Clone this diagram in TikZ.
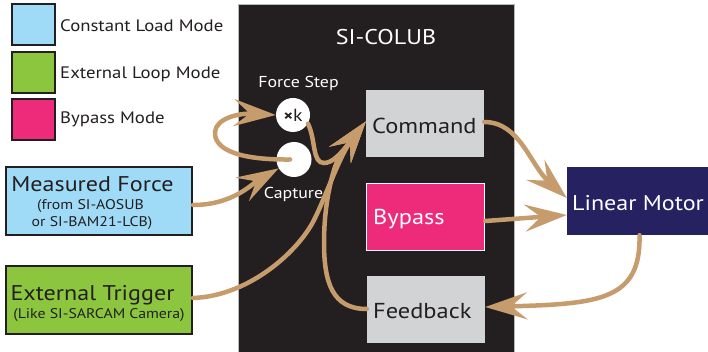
\documentclass[tikz,border=0pt]{standalone}
\usepackage{fontspec}
\setmainfont{PT Sans}[FakeStretch=1.13]
\usetikzlibrary{arrows.meta}
\definecolor{cblue}{HTML}{9FDBF7}
\definecolor{cgreen}{HTML}{8CC63F}
\definecolor{cpink}{HTML}{EE2A7B}
\definecolor{cnavy}{HTML}{262262}
\definecolor{cgray}{HTML}{D1D3D4}
\definecolor{cblack}{HTML}{231F20}
\definecolor{ctan}{HTML}{C69C6D}
\begin{document}
\begin{tikzpicture}[x=1pt,y=-1pt,
  legbox/.style={draw=cblack, line width=2pt, minimum width=43pt, minimum height=41pt, inner sep=0},
  legtext/.style={anchor=base west, inner sep=0, text=cblack, font=\fontsize{16.6}{20}\selectfont},
  srcbox/.style={draw=cblack, line width=2pt, minimum width=186pt, minimum height=68pt, inner sep=0},
  inbox/.style={minimum width=118pt, minimum height=67pt, inner sep=0},
  bigtext/.style={anchor=base west, inner sep=0, font=\fontsize{21.6}{24}\selectfont},
  bigc/.style={anchor=base, inner sep=0, font=\fontsize{21.3}{24}\selectfont},
  smallc/.style={anchor=base, inner sep=0, font=\fontsize{14}{16}\selectfont},
  midc/.style={anchor=base, inner sep=0, text=white, font=\fontsize{15.8}{18}\selectfont},
  dot/.style={circle, fill=white, minimum size=34pt, inner sep=0},
  flow/.style={draw=ctan, line width=4.5pt, line cap=round, -{Stealth[length=42pt,width=27pt,inset=16pt]}}
]
\useasboundingbox (0,0) rectangle (708,352);
\fill[white] (0,0) rectangle (708,352);
% legend
\node[legbox, fill=cblue] (l1) at (33.5,24.5) {};
\node[legbox, fill=cgreen] (l2) at (33.5,72.5) {};
\node[legbox, fill=cpink] (l3) at (33.5,119.5) {};
\node[legtext] (l1t) at (60,32) {Constant Load Mode};
\node[legtext] (l2t) at (60,79) {External Loop Mode};
\node[legtext] (l3t) at (60,124) {Bypass Mode};
% main box
\node[draw=gray!55, line width=0.8pt, fill=cblack, minimum width=276pt, minimum height=352pt, inner sep=0, anchor=north west] (colub) at (238,4) {};
\node[bigc, text=white] (title) at (386,45) {SI-COLUB};
\node[midc] (fst) at (298.5,88) {Force Step};
\node[midc] (capt) at (293.5,199) {Capture};
\node[dot] (xk) at (293,115) {\color{cblack}{\fontsize{16}{16}\selectfont\bfseries ×}{\fontsize{17.5}{18}\selectfont k}};
\node[dot, minimum size=35pt] (cap) at (294,159.5) {};
\node[inbox, fill=cgray] (cmd) at (425,123.5) {};
\node[inbox, fill=cpink, draw=white, line width=1.5pt] (byp) at (425.5,217) {};
\node[inbox, fill=cgray] (fb) at (426,309) {};
\node[bigtext, text=cblack] (cmdt) at (372,134) {Command};
\node[bigtext, text=white] (bypt) at (373,225) {Bypass};
\node[bigtext, text=cblack] (fbt) at (373,318) {Feedback};
% motor
\node[fill=cnavy, minimum width=141pt, minimum height=68pt, inner sep=0] (lm) at (637.5,201) {};
\node[bigc, text=white] (lmt) at (638,211) {Linear Motor};
% sources
\node[srcbox, fill=cblue] (mf) at (99,201) {};
\node[bigc, text=cblack] (mft) at (92.5,192) {Measured Force};
\node[smallc, text=cblack] (mf2) at (90.5,210) {(from SI-AOSUB};
\node[smallc, text=cblack] (mf3) at (92,227) {or SI-BAM21-LCB)};
\node[srcbox, fill=cgreen] (et) at (99,300) {};
\node[bigc, text=cblack] (ett) at (92.5,300) {External Trigger};
\node[smallc, text=cblack] (et2) at (99,318) {(Like SI-SARCAM Camera)};
% connectors
\coordinate (tip) at ([yshift=2pt]cmd.west);
\draw[flow] ([yshift=-4pt]mf.east) .. controls +(40,0) and +(-26,15) .. (cap.210);
\draw[flow] ([xshift=-4pt]cap.center) .. controls (235,160) and (214,148) .. (215,132) .. controls (216,118) and (240,113) .. (xk.west);
\draw[flow] (xk.-30) .. controls (316,140) and (312,163) .. (324,163) .. controls (332,163) and (340,155) .. (tip);
\draw[flow] ([yshift=2pt]et.east) .. controls (250,296) and (300,250) .. (315,218) .. controls (325,198) and (340,155) .. (tip);
\draw[flow] (fb.west) .. controls (332,309) and (324,282) .. (324,242) .. controls (324,205) and (332,170) .. (340,155) -- (tip);
\draw[flow] ([yshift=1.5pt]cmd.east) .. controls (520,122) and (530,165) .. ([yshift=3pt]lm.west);
\draw[flow] ([yshift=-4pt]byp.east) -- ([yshift=-14pt]lm.west);
\draw[flow] ([xshift=2pt]lm.south) .. controls (641,300) and (600,304) .. ([yshift=2pt]fb.east);
\end{tikzpicture}
\end{document}
